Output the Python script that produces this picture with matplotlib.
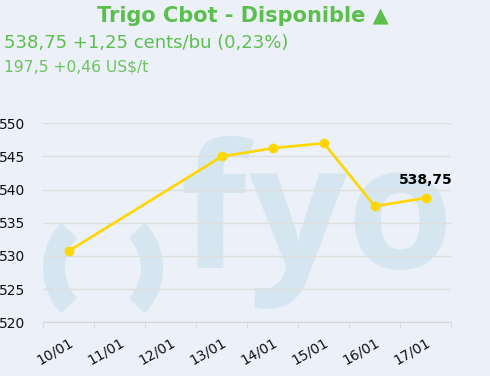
import matplotlib
matplotlib.use("Agg")
import matplotlib.pyplot as plt
from matplotlib.patches import Wedge

# === Data ===
dates = ["10/01", "11/01", "12/01", "13/01", "14/01", "15/01", "16/01", "17/01"]
point_dates = ["10/01", "13/01", "14/01", "15/01", "16/01", "17/01"]
prices = [530.75, 545.0, 546.25, 547.0, 537.5, 538.75]
yticks = [520, 525, 530, 535, 540, 545, 550]

title = "Trigo Cbot - Disponible \u25b2"
line1 = "538,75 +1,25 cents/bu (0,23%)"
line2 = "197,5 +0,46 US$/t"
last_label = "538,75"

bg = "#ebf0f9"
green = "#5cbf4c"
gold = "#ffd700"
mark = "#d5e6f0"

W, H = 490, 376
fig = plt.figure(figsize=(W / 100, H / 100), dpi=100, facecolor=bg)

# === Watermark (pixel coords) ===
wm = fig.add_axes([0, 0, 1, 1], zorder=0)
wm.set_xlim(0, W)
wm.set_ylim(H, 0)
wm.axis("off")
wm.add_patch(Wedge((108, 268), 65, 136, 224, width=22, color=mark, lw=0))
wm.add_patch(Wedge((98, 268), 65, -44, 44, width=22, color=mark, lw=0))
for ch, cx in [("f", 213), ("y", 297), ("o", 400)]:
    wm.text(cx, 268, ch, fontsize=124, family="Open Sans", fontweight="bold",
            color=mark, ha="center", va="baseline")

# === Main plot ===
ax = fig.add_axes([43.3 / W, 1 - 322.3 / H, 408 / W, 199 / H], zorder=1)
ax.set_facecolor("none")
xs = [dates.index(d) for d in point_dates]
ax.plot(xs, prices, color=gold, lw=1.9, marker="o", ms=6, zorder=3, clip_on=False)
ax.annotate(last_label, (xs[-1], prices[-1]), xytext=(0, 13), textcoords="offset points",
            ha="center", va="center", fontsize=10, fontweight="bold", color="black")

ax.set_xlim(-0.5, len(dates) - 0.5)
ax.set_ylim(520, 550)
ax.set_yticks(yticks)
ax.yaxis.grid(True, color="#dedede", lw=1)
ax.set_axisbelow(True)
for s in ["top", "right", "left"]:
    ax.spines[s].set_visible(False)
ax.spines["bottom"].set_color("#d8d8d8")
ax.tick_params(axis="y", length=0, pad=13, labelsize=10, labelcolor="#111111")

ax.set_xticks(range(len(dates)))
ax.set_xticklabels(dates, rotation=30, ha="right", va="top", rotation_mode="anchor")
ax.set_xticks([i - 0.5 for i in range(len(dates) + 1)], minor=True)
ax.tick_params(axis="x", which="major", length=0, pad=9, labelsize=10, labelcolor="#111111")
ax.tick_params(axis="x", which="minor", length=4, color="#d8d8d8")

# === Header ===
fig.text(243 / W, 1 - 16 / H, title, ha="center", va="center", fontsize=15,
         fontweight="bold", color=green)
fig.text(4 / W, 1 - 43 / H, line1, ha="left", va="center", fontsize=13, color=green)
fig.text(4 / W, 1 - 67 / H, line2, ha="left", va="center", fontsize=11.2, color="#6cc45c")

fig.savefig("out.png", dpi=100, facecolor=bg)
